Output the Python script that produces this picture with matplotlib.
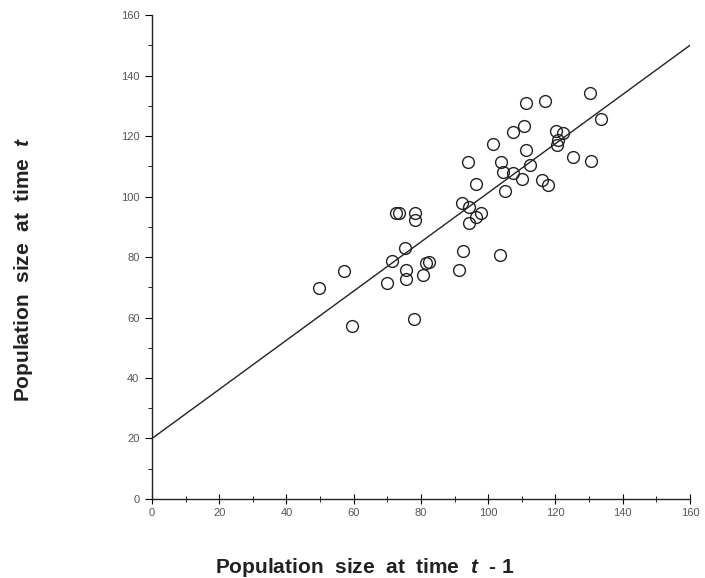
import matplotlib.pyplot as plt
from matplotlib.ticker import MultipleLocator

plt.rcParams['font.family'] = ['Liberation Sans', 'DejaVu Sans']
plt.rcParams['mathtext.fontset'] = 'custom'
plt.rcParams['mathtext.it'] = 'Liberation Sans:italic:bold'
plt.rcParams['mathtext.rm'] = 'Liberation Sans:bold'

# population at t-1 vs population at t
pop_prev = [130.3, 111.1, 116.9, 133.5, 110.7, 107.3, 120.1, 122.3, 120.8, 120.4,
            101.5, 111.2, 125.3, 130.6, 94.0, 103.8, 112.4, 104.5, 107.5, 110.0,
            116.1, 117.9, 96.3, 104.9, 92.3, 94.3, 96.3, 97.8, 94.3, 72.6,
            73.4, 78.2, 78.2, 75.3, 71.3, 82.4, 81.4, 92.4, 103.5, 57.1,
            75.5, 75.5, 80.5, 91.3, 49.8, 69.8, 59.4, 78.0]
pop_now = [134.1, 131.0, 131.6, 125.6, 123.4, 121.3, 121.7, 121.1, 118.7, 117.0,
           117.3, 115.4, 113.2, 111.8, 111.5, 111.5, 110.4, 108.2, 107.9, 105.8,
           105.5, 103.8, 104.1, 101.8, 97.7, 96.4, 93.3, 94.4, 91.3, 94.6,
           94.6, 94.6, 92.3, 82.9, 78.8, 78.5, 78.0, 82.0, 80.6, 75.4,
           75.7, 72.6, 74.0, 75.6, 69.6, 71.3, 57.3, 59.4]

# fitted line
intercept = 20.0
slope = 0.8125
line_x = [0, 160]
line_y = [intercept + slope * v for v in line_x]

fig = plt.figure(figsize=(7.05, 5.78), dpi=100)
ax = fig.add_axes([0.2156, 0.1367, 0.7631, 0.8373])

ax.plot(line_x, line_y, color='#222222', lw=1.0)
ax.plot(pop_prev, pop_now, 'o', mfc='none', mec='#222222', mew=1.0, ms=8.5)

ax.set_xlim(0, 160)
ax.set_ylim(0, 160)
ax.xaxis.set_major_locator(MultipleLocator(20))
ax.xaxis.set_minor_locator(MultipleLocator(10))
ax.yaxis.set_major_locator(MultipleLocator(20))
ax.yaxis.set_minor_locator(MultipleLocator(10))

for side in ['top', 'right']:
    ax.spines[side].set_visible(False)
for side in ['left', 'bottom']:
    ax.spines[side].set_color('#222222')
    ax.spines[side].set_linewidth(1.0)

ax.tick_params(axis='x', which='major', direction='inout', length=7, labelsize=8,
               labelcolor='#555555', pad=3)
ax.tick_params(axis='x', which='minor', direction='inout', length=4)
ax.tick_params(axis='y', which='major', direction='out', length=5, labelsize=8,
               labelcolor='#555555', pad=4)
ax.tick_params(axis='y', which='minor', direction='out', length=3)

fig.text(0.517, 0.019, r'Population  size  at  time  $t$  - 1', ha='center',
         va='center', fontsize=15, fontweight='bold', color='#222222')
fig.text(0.033, 0.533, r'Population  size  at  time  $t$', ha='center',
         va='center', rotation=90, fontsize=15, fontweight='bold', color='#222222')

fig.savefig('out.png', dpi=100)
